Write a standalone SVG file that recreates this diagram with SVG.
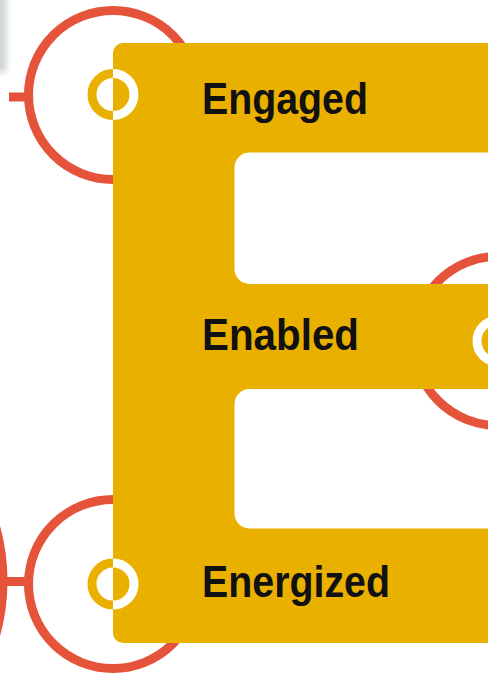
<svg xmlns="http://www.w3.org/2000/svg" width="488" height="676" viewBox="0 0 488 676">
  <defs>
    <style>
      .halo { fill: none; stroke: #E5533A; stroke-width: 9; }
      .tick { stroke: #E5533A; stroke-width: 9; fill: none; }
      .ring-y { fill: none; stroke: #EAB000; stroke-width: 9; }
      .ring-w { fill: none; stroke: #FFFFFF; stroke-width: 9; }
      .label { font-family: 'Liberation Sans Narrow', 'Liberation Sans', Arial, sans-serif; font-weight: bold; font-size: 44px; fill: #111111; }
    </style>
    <clipPath id="insideE">
      <rect x="113" y="0" width="400" height="676"/>
    </clipPath>
    <filter id="soft" x="-2" y="-1" width="5" height="3">
      <feGaussianBlur stdDeviation="3"/>
    </filter>
  </defs>

  <rect width="488" height="676" fill="#FFFFFF"/>

  <!-- faint smudge at the upper left edge -->
  <rect x="-4" y="-6" width="10" height="78" fill="#A9B5AE" opacity="0.6" filter="url(#soft)"/>

  <!-- red halos behind the letter -->
  <g id="halos">
    <circle class="halo" cx="113" cy="95" r="84.5"/>
    <circle class="halo" cx="498" cy="341" r="84.5"/>
    <circle class="halo" cx="113" cy="584" r="84.5"/>
    <circle class="halo" cx="-199" cy="581" r="202"/>
  </g>

  <!-- connectors -->
  <g id="connectors">
    <line class="tick" x1="9" y1="97" x2="30" y2="97"/>
    <line class="tick" x1="4" y1="581.5" x2="30" y2="581.5"/>
  </g>

  <!-- the big letter E -->
  <g id="letter-e">
    <path fill="#EAB000" fill-rule="evenodd" d="M123,43 H520 V643 H123 A10,10 0 0 1 113,633 V53 A10,10 0 0 1 123,43 Z
      M249.5,152.5 H520 V284 H249.5 A15,15 0 0 1 234.5,269 V167.5 A15,15 0 0 1 249.5,152.5 Z
      M249.5,389 H520 V528.5 H249.5 A15,15 0 0 1 234.5,513.5 V404 A15,15 0 0 1 249.5,389 Z"/>
  </g>

  <g id="engaged">
    <circle class="ring-y" cx="113" cy="94.5" r="21"/>
    <circle class="ring-w" cx="113" cy="94.5" r="21" clip-path="url(#insideE)"/>
    <text class="label" x="202" y="113.5" textLength="166" lengthAdjust="spacingAndGlyphs">Engaged</text>
  </g>

  <g id="enabled">
    <circle class="ring-w" cx="498" cy="341" r="21"/>
    <text class="label" x="202" y="350" textLength="157" lengthAdjust="spacingAndGlyphs">Enabled</text>
  </g>

  <g id="energized">
    <circle class="ring-y" cx="113" cy="584" r="21"/>
    <circle class="ring-w" cx="113" cy="584" r="21" clip-path="url(#insideE)"/>
    <text class="label" x="202" y="596.5" textLength="188" lengthAdjust="spacingAndGlyphs">Energized</text>
  </g>
</svg>
